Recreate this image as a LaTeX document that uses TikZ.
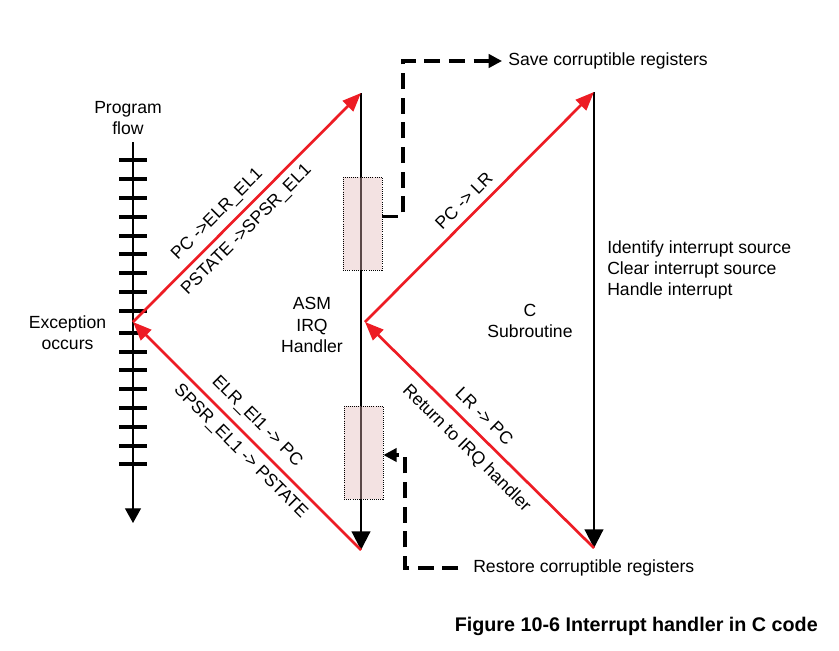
\documentclass[tikz,border=0pt]{standalone}
\usepackage{fontspec}
\setmainfont{Liberation Sans}
\usetikzlibrary{positioning, arrows.meta}
\definecolor{arred}{RGB}{237,28,36}
\definecolor{boxpink}{RGB}{225,182,182}
\tikzstyle{txt}=[align=center, inner sep=0pt, font=\fontsize{13.2}{15.8}\selectfont]
\tikzstyle{redar}=[-{Triangle[length=14pt, width=11pt]}, draw=arred, line width=2pt]
\tikzstyle{redback}=[{Triangle[length=14pt, width=11pt]}-, draw=arred, line width=2pt]
\tikzstyle{blkar}=[-{Triangle[length=14pt, width=14pt]}, line width=1.6pt]
\tikzstyle{flowar}=[-{Triangle[length=11pt, width=12pt]}, line width=0.8pt]
\tikzstyle{dashar}=[-{Triangle[length=10pt, width=10pt]}, line width=2.4pt, dash pattern=on 12pt off 6.5pt]
\tikzstyle{regbox}=[draw, densely dotted, line width=0.6pt, fill=boxpink, fill opacity=0.4,
                    minimum width=29.25pt, minimum height=69.75pt, inner sep=0pt]
\tikzstyle{tick}=[line width=2.4pt]

\begin{document}
\begin{tikzpicture}[x=0.75pt, y=-0.75pt]
    \useasboundingbox (0,0) rectangle (839,650);
    % fixed points
    \coordinate (flowtop) at (133,142);
    \coordinate (flowend) at (133,523);
    \coordinate (exc) at (133,322);
    \coordinate (asmtop) at (361,93);
    \coordinate (asmbot) at (361,550);
    \coordinate (asmret) at (365,322);
    \coordinate (ctop) at (594,92);
    \coordinate (cbot) at (594,548);
    % program flow
    \foreach \ty in {160,179,198,217,236,254,273,292,311,333,352,370,389,408,427,446,464}
        \draw[tick] (119,\ty) -- (147,\ty);
    \draw[flowar] (flowtop) -- (flowend);
    \node[txt] (flowlbl) at (128,118) {Program\\flow};
    \node[txt] (exclbl) at (67.5,333) {Exception\\occurs};
    % handlers
    \draw[blkar] (asmtop) -- (asmbot);
    \draw[blkar] (ctop) -- (cbot);
    \node[txt] (asmlbl) at (312,325) {ASM\\IRQ\\Handler};
    \node[txt] (clbl) at (530,321) {C\\Subroutine};
    \node[txt, align=left, anchor=west] (clist) at (607,270)
        {Identify interrupt source\\Clear interrupt source\\Handle interrupt};
    % red transitions
    \draw[redar] (exc) -- node[txt, sloped, above=5pt, pos=0.42] {PC ->ELR\_EL1}
        node[txt, sloped, below=5pt, pos=0.45] {PSTATE ->SPSR\_EL1} (asmtop);
    \draw[redback] (exc) -- node[txt, sloped, above=6pt, pos=0.49] {ELR\_El1 -> PC}
        node[txt, sloped, below=5pt, pos=0.52] {SPSR\_EL1 -> PSTATE} (asmbot);
    \draw[redar] (asmret) -- node[txt, sloped, above=6pt, pos=0.48] {PC -> LR} (ctop);
    \draw[redback] (asmret) -- node[txt, sloped, above=7pt, pos=0.47] {LR -> PC}
        node[txt, sloped, below=7pt, pos=0.50] {Return to IRQ handler} (cbot);
    % register save / restore
    \node[regbox] (savebx) at (362.5,223.5) {};
    \node[regbox] (resbx) at (363.5,452.5) {};
    \node[txt, anchor=west] (savetxt) at (508,61) {Save corruptible registers};
    \node[txt, anchor=west] (restxt) at (473,568) {Restore corruptible registers};
    \coordinate (savecorner) at (403,61);
    \coordinate (rescorner) at (405,455);
    \draw[dashar] (savebx.east) ++(0,-7) -| (savecorner) -- ([xshift=-4.5pt]savetxt.west);
    \draw[dashar] ([xshift=-11pt]restxt.west) -| (rescorner) -- (rescorner -| resbx.east);
    % caption
    \node[inner sep=0pt, anchor=east, font=\bfseries\fontsize{14.8}{18}\selectfont] (caption)
        at (818,626) {Figure 10-6 Interrupt handler in C code};
\end{tikzpicture}
\end{document}
